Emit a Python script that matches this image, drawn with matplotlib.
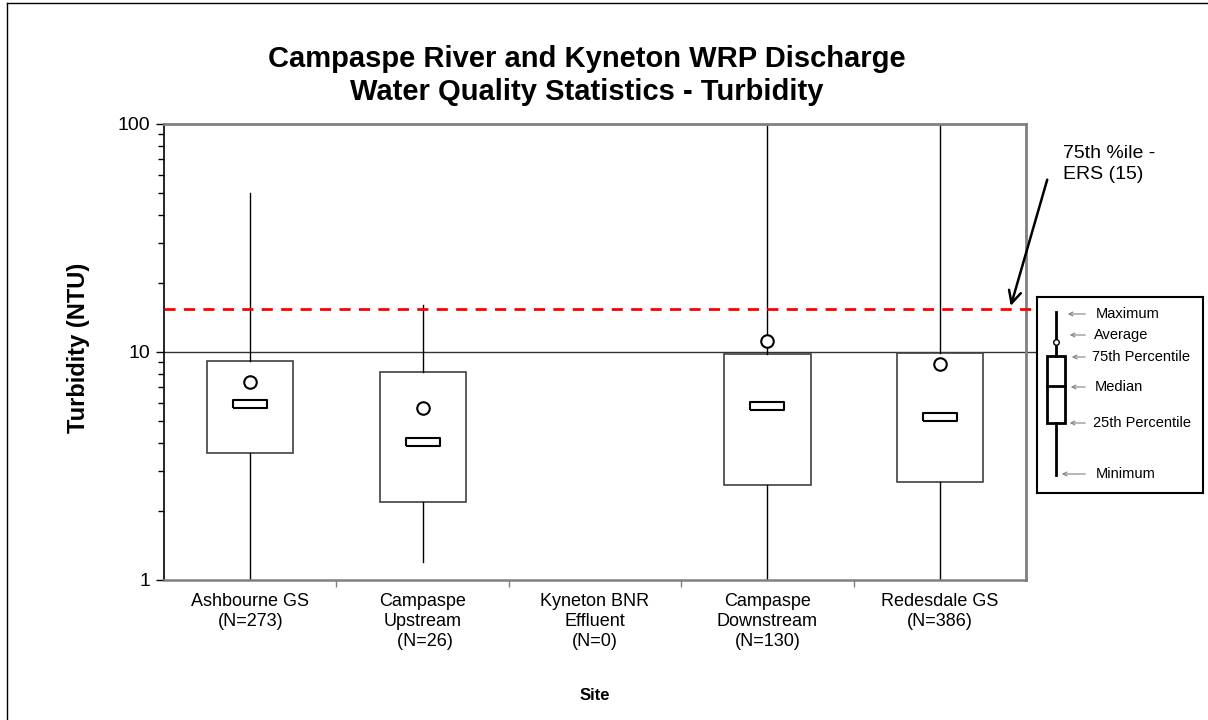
import matplotlib
matplotlib.use("Agg")
from matplotlib import pyplot as plt
from matplotlib.lines import Line2D
from matplotlib.ticker import FixedLocator, NullFormatter
import numpy as np

plt.rcParams['font.family'] = ['Liberation Sans', 'DejaVu Sans']

# site statistics (Turbidity, NTU); Kyneton has no samples
sites = ['Ashbourne GS\n(N=273)', 'Campaspe\nUpstream\n (N=26)', 'Kyneton BNR\nEffluent\n(N=0)',
         'Campaspe\nDownstream\n(N=130)', 'Redesdale GS\n(N=386)']
mins = [1.0, 1.2, None, 1.0, 1.0]
p25 = [3.6, 2.2, None, 2.6, 2.7]
medians = [5.9, 4.05, None, 5.8, 5.2]
means = [7.35, 5.7, None, 11.2, 8.9]
p75 = [9.1, 8.15, None, 9.8, 9.9]
maxs = [50.0, 16.0, None, 100.0, 100.0]
ers_75 = 15.5

fig = plt.figure(figsize=(12.08, 7.2), dpi=100)
W, H = 1208.0, 720.0
ax = fig.add_axes([164 / W, 1 - 580 / H, 862 / W, 456 / H])

stats = []
pos = []
for i in range(len(sites)):
    if mins[i] is None:
        continue
    stats.append(dict(med=medians[i], q1=p25[i], q3=p75[i], whislo=mins[i], whishi=maxs[i],
                      mean=means[i], fliers=[]))
    pos.append(i + 1)

ax.bxp(stats, positions=pos, widths=0.5, showcaps=False, showfliers=False, showmeans=False,
       patch_artist=True,
       boxprops=dict(facecolor='white', edgecolor='#404040', linewidth=1.2),
       whiskerprops=dict(color='black', linewidth=1.0),
       medianprops=dict(linewidth=0))

# median as small rectangle, mean as open circle
rect = [(-5, -1.1), (5, -1.1), (5, 1.1), (-5, 1.1), (-5, -1.1)]
med_y = [medians[p - 1] for p in pos]
mean_y = [means[p - 1] for p in pos]
ax.plot(pos, med_y, linestyle='none', marker=rect, markersize=25, markerfacecolor='white',
        markeredgecolor='black', markeredgewidth=1.5, zorder=5)
ax.plot(pos, mean_y, linestyle='none', marker='o', markersize=9, markerfacecolor='white',
        markeredgecolor='black', markeredgewidth=1.5, zorder=5)

ax.set_yscale('log')
ax.set_ylim(1, 100)
ax.set_xlim(0.5, 5.5)
ax.yaxis.set_major_locator(FixedLocator([1, 10, 100]))
ax.set_yticklabels(['1', '10', '100'])
ax.yaxis.set_minor_formatter(NullFormatter())
ax.tick_params(axis='y', which='major', length=6, width=1, direction='out', labelsize=14, pad=4)
ax.tick_params(axis='y', which='minor', length=4, width=1, direction='out')

ax.set_xticks(range(1, 6))
ax.set_xticklabels(sites, fontsize=13, linespacing=1.25)
ax.set_xticks(np.arange(1.5, 5.0, 1.0), minor=True)
ax.tick_params(axis='x', which='major', length=0, pad=9)
ax.tick_params(axis='x', which='minor', length=5, width=1, color='#808080', direction='out')

ax.spines['left'].set_color('black')
ax.spines['left'].set_linewidth(1.2)
ax.spines['bottom'].set_color('#808080')
ax.spines['bottom'].set_linewidth(1.8)
ax.spines['top'].set_color('#808080')
ax.spines['top'].set_linewidth(2)
ax.spines['right'].set_color('#808080')
ax.spines['right'].set_linewidth(2)

ax.axhline(10, xmin=0, xmax=(1037 - 164) / 862.0, color='#333333', linewidth=1.0, clip_on=False, zorder=1)
ax.axhline(ers_75, xmin=0, xmax=(1031 - 164) / 862.0, color='#ff0000', linewidth=2, linestyle=(0, (4, 3)),
           clip_on=False, zorder=6)

fig.text(78 / W, 1 - 348 / H, 'Turbidity (NTU)', ha='center', va='center', rotation=90,
         fontsize=17, fontweight='bold')
fig.text(595 / W, 1 - 695 / H, 'Site', ha='center', va='center', fontsize=12, fontweight='bold')
fig.text(587 / W, 1 - 59 / H, 'Campaspe River and Kyneton WRP Discharge', ha='center', va='center',
         fontsize=21, fontweight='bold')
fig.text(587 / W, 1 - 92 / H, 'Water Quality Statistics - Turbidity', ha='center', va='center',
         fontsize=21, fontweight='bold')

# annotation arrow for ERS line
tip_x = 0.5 + (1010 - 164) / 172.4
ax.annotate('', xy=(tip_x, ers_75), xycoords='data', xytext=(1048, H - 177), textcoords='figure pixels',
            arrowprops=dict(arrowstyle='->', color='black', lw=1.8, mutation_scale=22), annotation_clip=False)
fig.text(1063 / W, 1 - 145 / H, '75th %ile -\nERS (15)', ha='left', va='top', fontsize=14, linespacing=1.3)

# key box explaining the symbols
kx = fig.add_axes([1037 / W, 1 - 493 / H, 166 / W, 196 / H])
kx.set_xlim(0, 166)
kx.set_ylim(196, 0)
kx.set_xticks([])
kx.set_yticks([])
for s in kx.spines.values():
    s.set_linewidth(1.5)
    s.set_color('black')
kx.plot([19, 19], [15, 59], color='black', lw=2)
kx.plot([19, 19], [126, 178], color='black', lw=2)
kx.add_patch(plt.Rectangle((10, 59), 18, 67, facecolor='white', edgecolor='black', lw=2))
kx.plot([10, 28], [89, 89], color='black', lw=2)
kx.plot([19], [45], marker='o', markersize=4, markerfacecolor='white', markeredgecolor='black', mew=1)
key_labels = ['Maximum', 'Average', '75th Percentile', 'Median', '25th Percentile', 'Minimum']
key_y = [17, 38, 60, 90, 126, 177]
key_tx = [59, 57, 55, 58, 56, 59]
key_ax = [28, 30, 32, 31, 30, 22]
for lab, y, tx, a0 in zip(key_labels, key_y, key_tx, key_ax):
    kx.annotate('', xy=(a0, y), xytext=(51, y),
                arrowprops=dict(arrowstyle='->', color='#808080', lw=0.8, mutation_scale=7))
    kx.text(tx, y, lab, ha='left', va='center', fontsize=10.5)

# outer frame (left and top edges)
fig.add_artist(Line2D([7 / W, 7 / W], [0, 1 - 3 / H], transform=fig.transFigure, color='black', lw=1))
fig.add_artist(Line2D([7 / W, 1], [1 - 3 / H, 1 - 3 / H], transform=fig.transFigure, color='black', lw=1))

fig.savefig('out.png', dpi=100)
